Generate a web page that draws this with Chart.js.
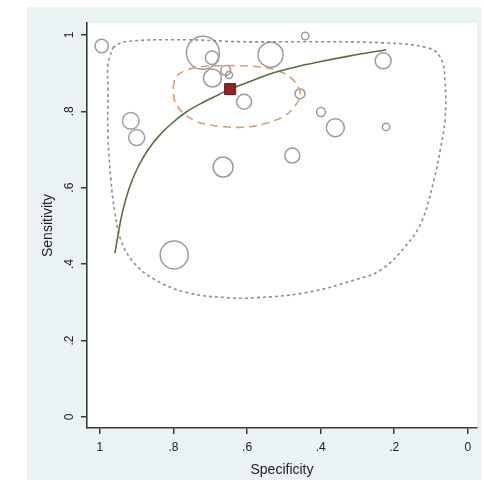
<!DOCTYPE html>
<html>
<head>
<meta charset="utf-8">
<script src="https://cdn.jsdelivr.net/npm/chart.js@4/dist/chart.umd.min.js"></script>
<style>
  html, body { margin: 0; padding: 0; background: #fff; }
  #wrap { width: 484px; height: 480px; }
</style>
</head>
<body>
<div id="wrap"><canvas id="myChart" width="484" height="480"></canvas></div>
<script>
// study estimates (specificity, sensitivity) and study weights
let studySpec = [0.995, 0.720, 0.695, 0.694, 0.658, 0.649, 0.536, 0.442, 0.230, 0.608, 0.456, 0.399, 0.360, 0.222, 0.916, 0.900, 0.477, 0.665, 0.798];
let studySens = [0.971, 0.953, 0.940, 0.887, 0.907, 0.895, 0.948, 0.997, 0.932, 0.825, 0.846, 0.798, 0.757, 0.759, 0.775, 0.731, 0.684, 0.654, 0.424];
let studyWeight = [45, 272, 45, 81, 25, 12, 156, 14, 64, 56, 25, 20, 81, 14, 69, 64, 56, 100, 196];

// summary point
let summarySpec = [0.646];
let summarySens = [0.858];

// SROC curve
let srocSpec = [0.959, 0.950, 0.940, 0.928, 0.912, 0.893, 0.870, 0.840, 0.805, 0.765, 0.720, 0.680, 0.646, 0.600, 0.540, 0.480, 0.400, 0.320, 0.222];
let srocSens = [0.429, 0.480, 0.530, 0.575, 0.620, 0.660, 0.698, 0.735, 0.768, 0.798, 0.823, 0.842, 0.858, 0.875, 0.897, 0.913, 0.930, 0.945, 0.961];

// 95% confidence region
let confSpec = [0.801, 0.793, 0.769, 0.728, 0.674, 0.619, 0.565, 0.516, 0.480, 0.459, 0.456, 0.470, 0.497, 0.543, 0.598, 0.652, 0.701, 0.741, 0.774, 0.796, 0.801];
let confSens = [0.861, 0.890, 0.906, 0.916, 0.919, 0.919, 0.916, 0.906, 0.887, 0.861, 0.840, 0.814, 0.788, 0.770, 0.759, 0.759, 0.764, 0.775, 0.796, 0.825, 0.861];

// 95% prediction region
let predSpec = [0.965, 0.932, 0.761, 0.619, 0.456, 0.230, 0.109, 0.075, 0.062, 0.062, 0.075, 0.092, 0.127, 0.171, 0.236, 0.306, 0.442, 0.578, 0.652, 0.761, 0.850, 0.907, 0.943, 0.959, 0.970, 0.978, 0.978, 0.978, 0.965];
let predSens = [0.966, 0.982, 0.987, 0.982, 0.982, 0.979, 0.966, 0.942, 0.882, 0.777, 0.699, 0.620, 0.508, 0.445, 0.385, 0.359, 0.325, 0.312, 0.312, 0.325, 0.359, 0.403, 0.463, 0.534, 0.620, 0.738, 0.856, 0.921, 0.966];

let tickValues = [0, 0.2, 0.4, 0.6, 0.8, 1];

function pairs(xs, ys) {
    return xs.map(function (x, i) { return { x: x, y: ys[i] }; });
}

function tickText(v) {
    if (v === 0) return '0';
    if (v === 1) return '1';
    return String(Math.round(v * 10) / 10).replace('0.', '.');
}

let background = {
    id: 'background',
    beforeDraw: function (chart) {
        let ctx = chart.ctx;
        let a = chart.chartArea;
        ctx.save();
        ctx.fillStyle = '#ffffff';
        ctx.fillRect(0, 0, chart.width, chart.height);
        ctx.fillStyle = '#eaf2f3';
        ctx.fillRect(27, 7, 454, 473);
        ctx.fillStyle = '#ffffff';
        ctx.fillRect(a.left, a.top, a.right - a.left, a.bottom - a.top);
        ctx.restore();
    }
};

let myChart = document.getElementById('myChart').getContext('2d');

let chart = new Chart(myChart, {
    type: 'scatter',
    data: {
        datasets: [
            {
                label: 'Summary point',
                data: pairs(summarySpec, summarySens),
                pointStyle: 'rect',
                pointRadius: 7.8,
                backgroundColor: '#8c2626',
                borderColor: '#6a1a1a',
                borderWidth: 1
            },
            {
                label: 'SROC curve',
                data: pairs(srocSpec, srocSens),
                showLine: true,
                pointRadius: 0,
                borderColor: '#56703f',
                borderWidth: 1.6,
                tension: 0.35
            },
            {
                label: '95% confidence region',
                data: pairs(confSpec, confSens),
                showLine: true,
                pointRadius: 0,
                borderColor: '#e29b70',
                borderWidth: 1.6,
                borderDash: [8, 5],
                tension: 0.4
            },
            {
                label: '95% prediction region',
                data: pairs(predSpec, predSens),
                showLine: true,
                pointRadius: 0,
                borderColor: '#8e8e8e',
                borderWidth: 1.6,
                borderDash: [3, 3],
                tension: 0.4
            },
            {
                type: 'bubble',
                label: 'Study estimate',
                data: studySpec.map(function (s, i) {
                    return { x: s, y: studySens[i], r: Math.sqrt(studyWeight[i]) };
                }),
                backgroundColor: 'rgba(0,0,0,0)',
                borderColor: '#9c9c9c',
                borderWidth: 1.5
            }
        ]
    },
    options: {
        responsive: false,
        animation: false,
        layout: {
            autoPadding: false,
            padding: { left: 27, top: 23, right: 7, bottom: 0 }
        },
        plugins: {
            legend: { display: false },
            tooltip: { enabled: false }
        },
        scales: {
            x: {
                type: 'linear',
                reverse: true,
                min: -0.025,
                max: 1.035,
                afterBuildTicks: function (axis) {
                    axis.ticks = tickValues.map(function (v) { return { value: v }; });
                },
                afterFit: function (axis) { axis.height = 52; },
                border: { display: true, color: '#3a3a3a', width: 1.6 },
                grid: { drawOnChartArea: false, drawTicks: true, tickLength: 6, color: '#3a3a3a', lineWidth: 1.5 },
                ticks: {
                    padding: 6,
                    maxRotation: 0,
                    color: '#222',
                    font: { family: 'Liberation Sans, Arial, sans-serif', size: 12 },
                    callback: function (v) { return tickText(v); }
                },
                title: {
                    display: true,
                    text: 'Specificity',
                    color: '#222',
                    padding: { top: 0, bottom: 1 },
                    font: { family: 'Liberation Sans, Arial, sans-serif', size: 14 }
                }
            },
            y: {
                type: 'linear',
                min: -0.029,
                max: 1.031,
                afterBuildTicks: function (axis) {
                    axis.ticks = tickValues.map(function (v) { return { value: v }; });
                },
                afterFit: function (axis) { axis.width = 60; },
                border: { display: true, color: '#3a3a3a', width: 1.6 },
                grid: { drawOnChartArea: false, drawTicks: true, tickLength: 6, color: '#3a3a3a', lineWidth: 1.5 },
                ticks: {
                    padding: 6,
                    minRotation: 90,
                    maxRotation: 90,
                    crossAlign: 'center',
                    color: '#222',
                    font: { family: 'Liberation Sans, Arial, sans-serif', size: 12 },
                    callback: function (v) { return tickText(v); }
                },
                title: {
                    display: true,
                    text: 'Sensitivity',
                    color: '#222',
                    padding: { top: 13, bottom: 0 },
                    font: { family: 'Liberation Sans, Arial, sans-serif', size: 14 }
                }
            }
        }
    },
    plugins: [background]
});
</script>
</body>
</html>
